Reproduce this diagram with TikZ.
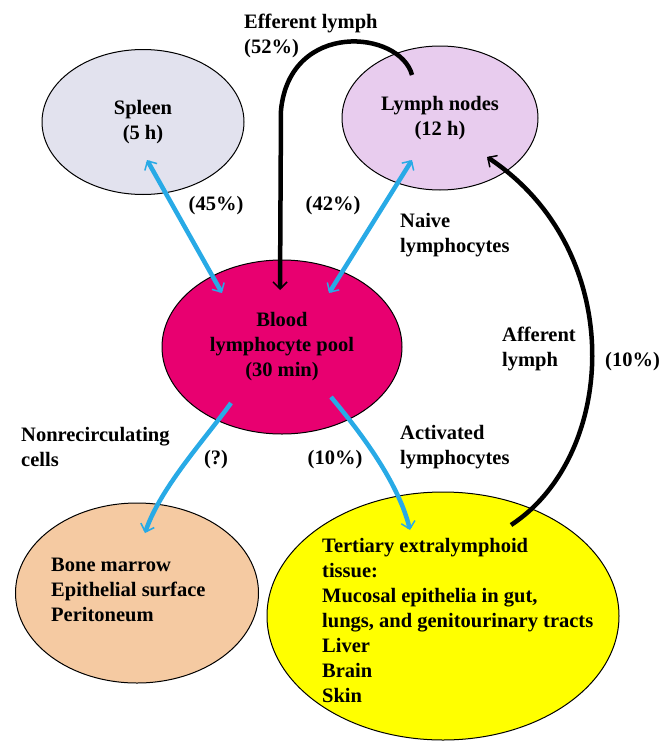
\documentclass[tikz,border=0pt]{standalone}
\usepackage{fontspec}
\setmainfont{Liberation Serif}
\usepackage{tikz}
\usetikzlibrary{shapes.geometric, arrows.meta, calc}

\definecolor{spleenfill}{RGB}{226,226,238}
\definecolor{nodefill}{RGB}{232,204,238}
\definecolor{poolfill}{RGB}{232,0,112}
\definecolor{marrowfill}{RGB}{245,202,162}
\definecolor{tissuefill}{RGB}{255,255,0}
\definecolor{flowblue}{RGB}{40,170,230}

\begin{document}
\begin{tikzpicture}[
    x=1pt, y=-1pt,
    every node/.style={font=\fontsize{20.5}{25}\selectfont\bfseries},
    organ/.style={ellipse, draw, line width=1pt, inner sep=0pt},
    lbl/.style={align=left, anchor=west, inner sep=0pt},
    flow/.style={draw=flowblue, line width=4.5pt},
    blueboth/.style={flow, {Straight Barb[length=7pt,width=14pt,line width=1.5pt]}-{Straight Barb[length=7pt,width=14pt,line width=1.5pt]}},
    blueto/.style={flow, -{Straight Barb[length=7pt,width=14pt,line width=1.5pt]}},
    lymphflow/.style={draw=black, line width=4.5pt, -{Straight Barb[length=7pt,width=14pt,line width=1.5pt]}}
]
\useasboundingbox (0,0) rectangle (663,742);

% compartments
\node[organ, fill=spleenfill, minimum width=202pt, minimum height=145pt, align=center] (spleen) at (143,122) {Spleen\\(5 h)};
\node[organ, fill=nodefill, minimum width=196pt, minimum height=144pt, align=center] (lymphnodes) at (440,118) {Lymph nodes\\(12 h)};
\node[organ, fill=poolfill, minimum width=240pt, minimum height=174pt, align=center] (pool) at (282,347) {Blood\\lymphocyte pool\\(30 min)};
\node[organ, fill=marrowfill, minimum width=243pt, minimum height=180pt] (marrow) at (137,593) {};
\node[organ, fill=tissuefill, minimum width=352pt, minimum height=248pt] (tissue) at (443,616) {};

\node[lbl] (marrowtxt) at (51,590) {Bone marrow\\Epithelial surface\\Peritoneum};
\node[lbl] (tissuetxt) at (322,620) {Tertiary extralymphoid\\tissue:\\Mucosal epithelia in gut,\\lungs, and genitourinary tracts\\Liver\\Brain\\Skin};

% labels
\node[lbl] (efflbl) at (244,36) {Efferent lymph\\(52\%)};
\node (spleenpct) at (216,206) {(45\%)};
\node (nodepct) at (333,206) {(42\%)};
\node[lbl] (naive) at (400,235) {Naive\\lymphocytes};
\node[lbl] (afflbl) at (502,349) {Afferent\\lymph};
\node[lbl] (affpct) at (605,362) {(10\%)};
\node[lbl] (nonrec) at (21,447) {Nonrecirculating\\cells};
\node (nonrecpct) at (216,460) {(?)};
\node (actpct) at (335,460) {(10\%)};
\node[lbl] (actlbl) at (400,447) {Activated\\lymphocytes};

% blue exchanges
\draw[blueboth] ($(spleen)+(4,38)$) -- ($(pool)+(-60,-54)$);
\draw[blueboth] ($(lymphnodes)+(-28,42)$) -- ($(pool)+(47,-54)$);
\draw[blueto] ($(pool)+(-51,56)$) .. controls +(-25,35) and +(15,-45) .. ($(marrow)+(8,-60)$);
\draw[blueto] ($(pool)+(49,50)$) .. controls +(25,30) and +(-12,-50) .. ($(tissue)+(-33,-86)$);

% lymph routes
\draw[lymphflow] ($(lymphnodes)+(-28,-43)$) .. controls (400,30) and (290,20) .. (281,110) -- ($(pool)+(-2,-57)$);
\draw[lymphflow] ($(tissue)+(68,-91)$) .. controls (618,455) and (628,250) .. ($(lymphnodes)+(47,39)$);

\end{tikzpicture}
\end{document}
